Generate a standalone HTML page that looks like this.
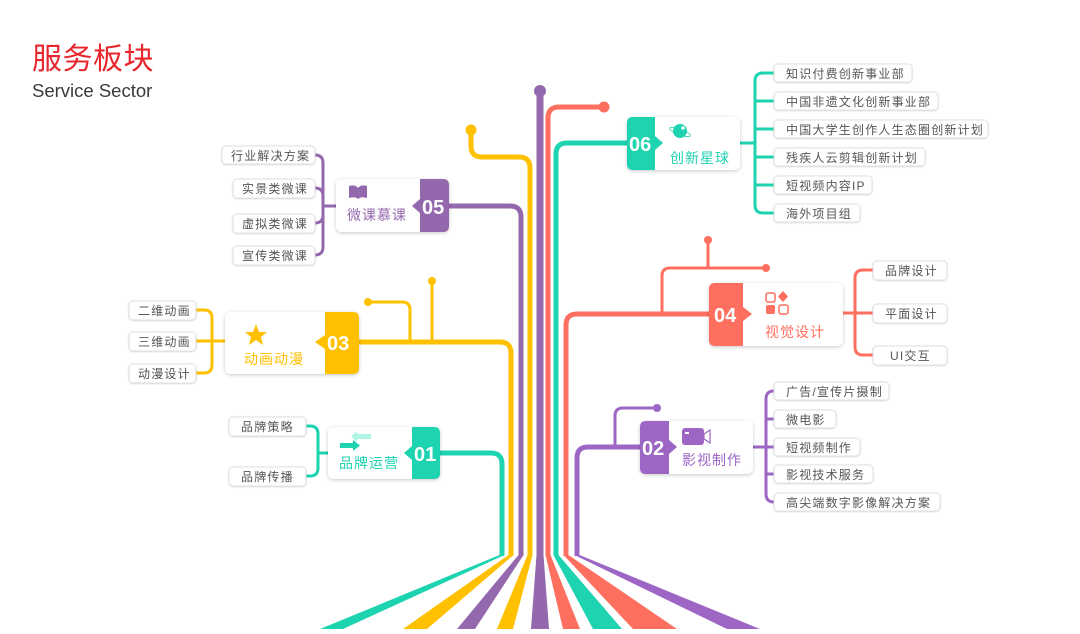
<!DOCTYPE html>
<html><head><meta charset="utf-8"><style>
html,body{margin:0;padding:0;background:#fff;}
body{width:1080px;height:629px;overflow:hidden;position:relative;font-family:"Liberation Sans","Noto Sans CJK SC",sans-serif;}
svg text{font-family:"Liberation Sans","Noto Sans CJK SC",sans-serif;}
.c{font-size:12px;fill:#555;letter-spacing:1.2px;}
.n{font-size:20px;font-weight:bold;fill:#fff;}
.l{font-size:14px;letter-spacing:1px;}
</style></head><body>
<svg width="1080" height="629" viewBox="0 0 1080 629" xmlns="http://www.w3.org/2000/svg">
<defs>
<filter id="sh" x="-20%" y="-30%" width="140%" height="160%"><feDropShadow dx="0" dy="1" stdDeviation="1.8" flood-color="#000" flood-opacity="0.22"/></filter>
<filter id="sh2" x="-20%" y="-30%" width="140%" height="160%"><feDropShadow dx="0" dy="0.5" stdDeviation="0.8" flood-color="#000" flood-opacity="0.18"/></filter>
</defs>
<text x="32" y="69" font-size="30" fill="#e8262d" style="letter-spacing:0.5px">服务板块</text>
<text x="32" y="97" font-size="18.5" fill="#3a3a3a">Service Sector</text>

<!-- fans -->
<g>
<polygon points="499.5,555 504.5,555 343,629 320,629" fill="#1dd3b0"/>
<polygon points="508.5,555 513.5,555 427,629 403,629" fill="#ffc000"/>
<polygon points="518.5,555 523.5,555 475,629 457,629" fill="#9468ad"/>
<polygon points="527.5,555 532.5,555 513,629 497,629" fill="#ffc000"/>
<polygon points="536.5,555 543.5,555 549,629 531,629" fill="#9468ad"/>
<polygon points="545.5,555 550.5,555 580,629 563,629" fill="#ff6f5f"/>
<polygon points="553.5,555 558.5,555 622,629 593,629" fill="#1dd3b0"/>
<polygon points="563.5,555 568.5,555 677,629 633,629" fill="#ff6f5f"/>
<polygon points="574.5,555 579.5,555 760,629 727,629" fill="#9d66c5"/>
</g>

<g fill="none" stroke-width="5" stroke-linecap="butt">
<path d="M540,91 V556" stroke="#9468ad" stroke-width="7"/>
<path d="M548,556 V118 Q548,107 559,107 H604" stroke="#ff6f5f"/>
<path d="M556,556 V154 Q556,143 567,143 H630" stroke="#1dd3b0"/>
<path d="M530,556 V168 Q530,157 519,157 H482 Q471,157 471,146 V130" stroke="#ffc000"/>
<path d="M521,556 V217 Q521,206 510,206 H445" stroke="#9468ad"/>
<path d="M511,556 V353 Q511,342 500,342 H355" stroke="#ffc000"/>
<path d="M410,342 V310 Q410,302 402,302 H368" stroke="#ffc000" stroke-width="3"/>
<path d="M432,342 V281" stroke="#ffc000" stroke-width="3"/>
<path d="M502,556 V464 Q502,453 491,453 H437" stroke="#1dd3b0"/>
<path d="M566,556 V325 Q566,314 577,314 H712" stroke="#ff6f5f"/>
<path d="M662,314 V276 Q662,268 670,268 H766" stroke="#ff6f5f" stroke-width="3"/>
<path d="M708,268 V240" stroke="#ff6f5f" stroke-width="3"/>
<path d="M577,556 V458 Q577,447 588,447 H642" stroke="#9d66c5"/>
<path d="M615,447 V416 Q615,408 623,408 H657" stroke="#9d66c5" stroke-width="3"/>
</g>
<circle cx="540" cy="91" r="6" fill="#9468ad"/>
<circle cx="604" cy="107" r="5.5" fill="#ff6f5f"/>
<circle cx="471" cy="130" r="5.5" fill="#ffc000"/>
<circle cx="368" cy="302" r="4" fill="#ffc000"/>
<circle cx="432" cy="281" r="4" fill="#ffc000"/>
<circle cx="766" cy="268" r="4" fill="#ff6f5f"/>
<circle cx="708" cy="240" r="4" fill="#ff6f5f"/>
<circle cx="657" cy="408" r="4" fill="#9d66c5"/>

<!-- brackets -->
<g fill="none" stroke-width="3">
<path d="M315,155 Q323,155 323,163 V247 Q323,255 315,255 M315,188 Q323,188 323,196 M315,223 Q323,223 323,215 M323,206 H336" stroke="#9468ad"/>
<path d="M196,310 H204 Q212,310 212,318 V365 Q212,373 204,373 H196 M196,341 H225" stroke="#ffc000"/>
<path d="M306,426 H310 Q318,426 318,434 V468 Q318,476 310,476 H306 M318,453 H328" stroke="#1dd3b0"/>
<path d="M775,73 H763 Q755,73 755,81 V205 Q755,213 763,213 H775 M755,101 H775 M755,129 H775 M755,157 H775 M755,185 H775 M740,143 H755" stroke="#1dd3b0"/>
<path d="M873,270 H863 Q855,270 855,278 V347 Q855,355 863,355 H873 M843,313 H873" stroke="#ff6f5f"/>
<path d="M774,391 H774 Q766,391 766,399 V494 Q766,502 774,502 M766,419 H774 M766,447 H774 M766,474 H774 M753,447 H766" stroke="#9d66c5"/>
</g>

<!-- child boxes -->
<g fill="#fff" stroke="#e2e2e2" stroke-width="1" filter="url(#sh2)">
<rect x="222" y="146" width="93" height="18" rx="4"/>
<rect x="233" y="179" width="82" height="19" rx="4"/>
<rect x="233" y="214" width="82" height="19" rx="4"/>
<rect x="233" y="246" width="82" height="19" rx="4"/>
<rect x="129" y="301" width="67" height="19" rx="4"/>
<rect x="129" y="332" width="67" height="19" rx="4"/>
<rect x="129" y="364" width="67" height="19" rx="4"/>
<rect x="229" y="417" width="77" height="19" rx="4"/>
<rect x="229" y="467" width="77" height="19" rx="4"/>
<rect x="774" y="64" width="138" height="18" rx="4"/>
<rect x="774" y="92" width="164" height="18" rx="4"/>
<rect x="774" y="120" width="214" height="18" rx="4"/>
<rect x="774" y="148" width="151" height="18" rx="4"/>
<rect x="774" y="176" width="98" height="18" rx="4"/>
<rect x="774" y="204" width="86" height="18" rx="4"/>
<rect x="873" y="261" width="74" height="19" rx="4"/>
<rect x="873" y="304" width="74" height="19" rx="4"/>
<rect x="873" y="346" width="74" height="19" rx="4"/>
<rect x="774" y="382" width="115" height="18" rx="4"/>
<rect x="774" y="410" width="62" height="18" rx="4"/>
<rect x="774" y="438" width="86" height="18" rx="4"/>
<rect x="774" y="465" width="99" height="18" rx="4"/>
<rect x="774" y="493" width="166" height="18" rx="4"/>
</g>
<g class="c">
<text x="231" y="160">行业解决方案</text>
<text x="242" y="193">实景类微课</text>
<text x="242" y="228">虚拟类微课</text>
<text x="242" y="260">宣传类微课</text>
<text x="138" y="315">二维动画</text>
<text x="138" y="346">三维动画</text>
<text x="138" y="378">动漫设计</text>
<text x="241" y="431">品牌策略</text>
<text x="241" y="481">品牌传播</text>
<text x="786" y="78">知识付费创新事业部</text>
<text x="786" y="106">中国非遗文化创新事业部</text>
<text x="786" y="134">中国大学生创作人生态圈创新计划</text>
<text x="786" y="162">残疾人云剪辑创新计划</text>
<text x="786" y="190">短视频内容IP</text>
<text x="786" y="218">海外项目组</text>
<text x="885" y="275">品牌设计</text>
<text x="885" y="318">平面设计</text>
<text x="890" y="360">UI交互</text>
<text x="786" y="396">广告/宣传片摄制</text>
<text x="786" y="424">微电影</text>
<text x="786" y="452">短视频制作</text>
<text x="786" y="479">影视技术服务</text>
<text x="786" y="507">高尖端数字影像解决方案</text>
</g>

<!-- node 05 -->
<g filter="url(#sh)"><rect x="336" y="179" width="113" height="53" rx="6" fill="#fff"/></g>
<path d="M420,179 H443 Q449,179 449,185 V226 Q449,232 443,232 H420 Z" fill="#9468ad"/>
<polygon points="420,199 412,206 420,213" fill="#9468ad"/>
<text class="n" x="422" y="214">05</text>
<path d="M349,186 Q355,184 358,188 Q361,184 367,186 V198 Q361,196 358,199 Q355,196 349,198 Z" fill="#9468ad"/>
<text class="l" x="347" y="220" fill="#9468ad">微课慕课</text>

<!-- node 03 -->
<g filter="url(#sh)"><rect x="225" y="312" width="134" height="62" rx="6" fill="#fff"/></g>
<path d="M325,312 H353 Q359,312 359,318 V368 Q359,374 353,374 H325 Z" fill="#ffc000"/>
<polygon points="325,335 315,342 325,349" fill="#ffc000"/>
<text class="n" x="327" y="350">03</text>
<polygon points="256,324 259,332 267,332 261,337 263,345 256,340 249,345 251,337 245,332 253,332" fill="#ffc000"/>
<text class="l" x="244" y="364" fill="#ffc000">动画动漫</text>

<!-- node 01 -->
<g filter="url(#sh)"><rect x="328" y="427" width="112" height="52" rx="6" fill="#fff"/></g>
<path d="M412,427 H434 Q440,427 440,433 V473 Q440,479 434,479 H412 Z" fill="#1dd3b0"/>
<polygon points="412,446 404,453 412,460" fill="#1dd3b0"/>
<text class="n" x="414" y="461">01</text>
<rect x="355" y="434" width="16" height="5" fill="#aef5e6"/><polygon points="357,431 351,436.5 357,442" fill="#aef5e6"/>
<rect x="340" y="443" width="14" height="5" fill="#1dd3b0"/><polygon points="353,440 360,445.5 353,451" fill="#1dd3b0"/>
<text class="l" x="339" y="468" fill="#1dd3b0">品牌运营</text>

<!-- node 06 -->
<g filter="url(#sh)"><rect x="627" y="117" width="113" height="53" rx="6" fill="#fff"/></g>
<path d="M655,117 H633 Q627,117 627,123 V164 Q627,170 633,170 H655 Z" fill="#1dd3b0"/>
<polygon points="655,136 663,143 655,150" fill="#1dd3b0"/>
<text class="n" x="629" y="151">06</text>
<circle cx="680" cy="131" r="7" fill="#1dd3b0"/><ellipse cx="680" cy="132" rx="11" ry="3" fill="none" stroke="#1dd3b0" stroke-width="0.8" transform="rotate(20 680 132)"/><circle cx="683" cy="128" r="1.8" fill="#fff"/>
<text class="l" x="670" y="163" fill="#1dd3b0">创新星球</text>

<!-- node 04 -->
<g filter="url(#sh)"><rect x="709" y="283" width="134" height="63" rx="6" fill="#fff"/></g>
<path d="M743,283 H715 Q709,283 709,289 V340 Q709,346 715,346 H743 Z" fill="#ff6f5f"/>
<polygon points="743,307 752,314 743,321" fill="#ff6f5f"/>
<text class="n" x="714" y="322">04</text>
<rect x="766" y="293" width="9" height="9" rx="2" fill="none" stroke="#ff6f5f" stroke-width="1.5"/>
<polygon points="783,291 788,296.5 783,302 778,296.5" fill="#ff6f5f"/>
<rect x="766" y="305" width="9" height="9" rx="2" fill="#ff6f5f"/>
<rect x="779" y="305" width="9" height="9" rx="2" fill="none" stroke="#ff6f5f" stroke-width="1.5"/>
<text class="l" x="765" y="337" fill="#ff6f5f">视觉设计</text>

<!-- node 02 -->
<g filter="url(#sh)"><rect x="640" y="421" width="113" height="53" rx="6" fill="#fff"/></g>
<path d="M669,421 H646 Q640,421 640,427 V468 Q640,474 646,474 H669 Z" fill="#9d66c5"/>
<polygon points="669,440 677,447 669,454" fill="#9d66c5"/>
<text class="n" x="642" y="455">02</text>
<rect x="682" y="428" width="22" height="17" rx="3" fill="#9d66c5"/><polygon points="704,434 710,430 710,443 704,439" fill="none" stroke="#9d66c5" stroke-width="1.2"/><rect x="685" y="432" width="4" height="2" fill="#fff"/>
<text class="l" x="682" y="465" fill="#9d66c5">影视制作</text>
</svg>
</body></html>
